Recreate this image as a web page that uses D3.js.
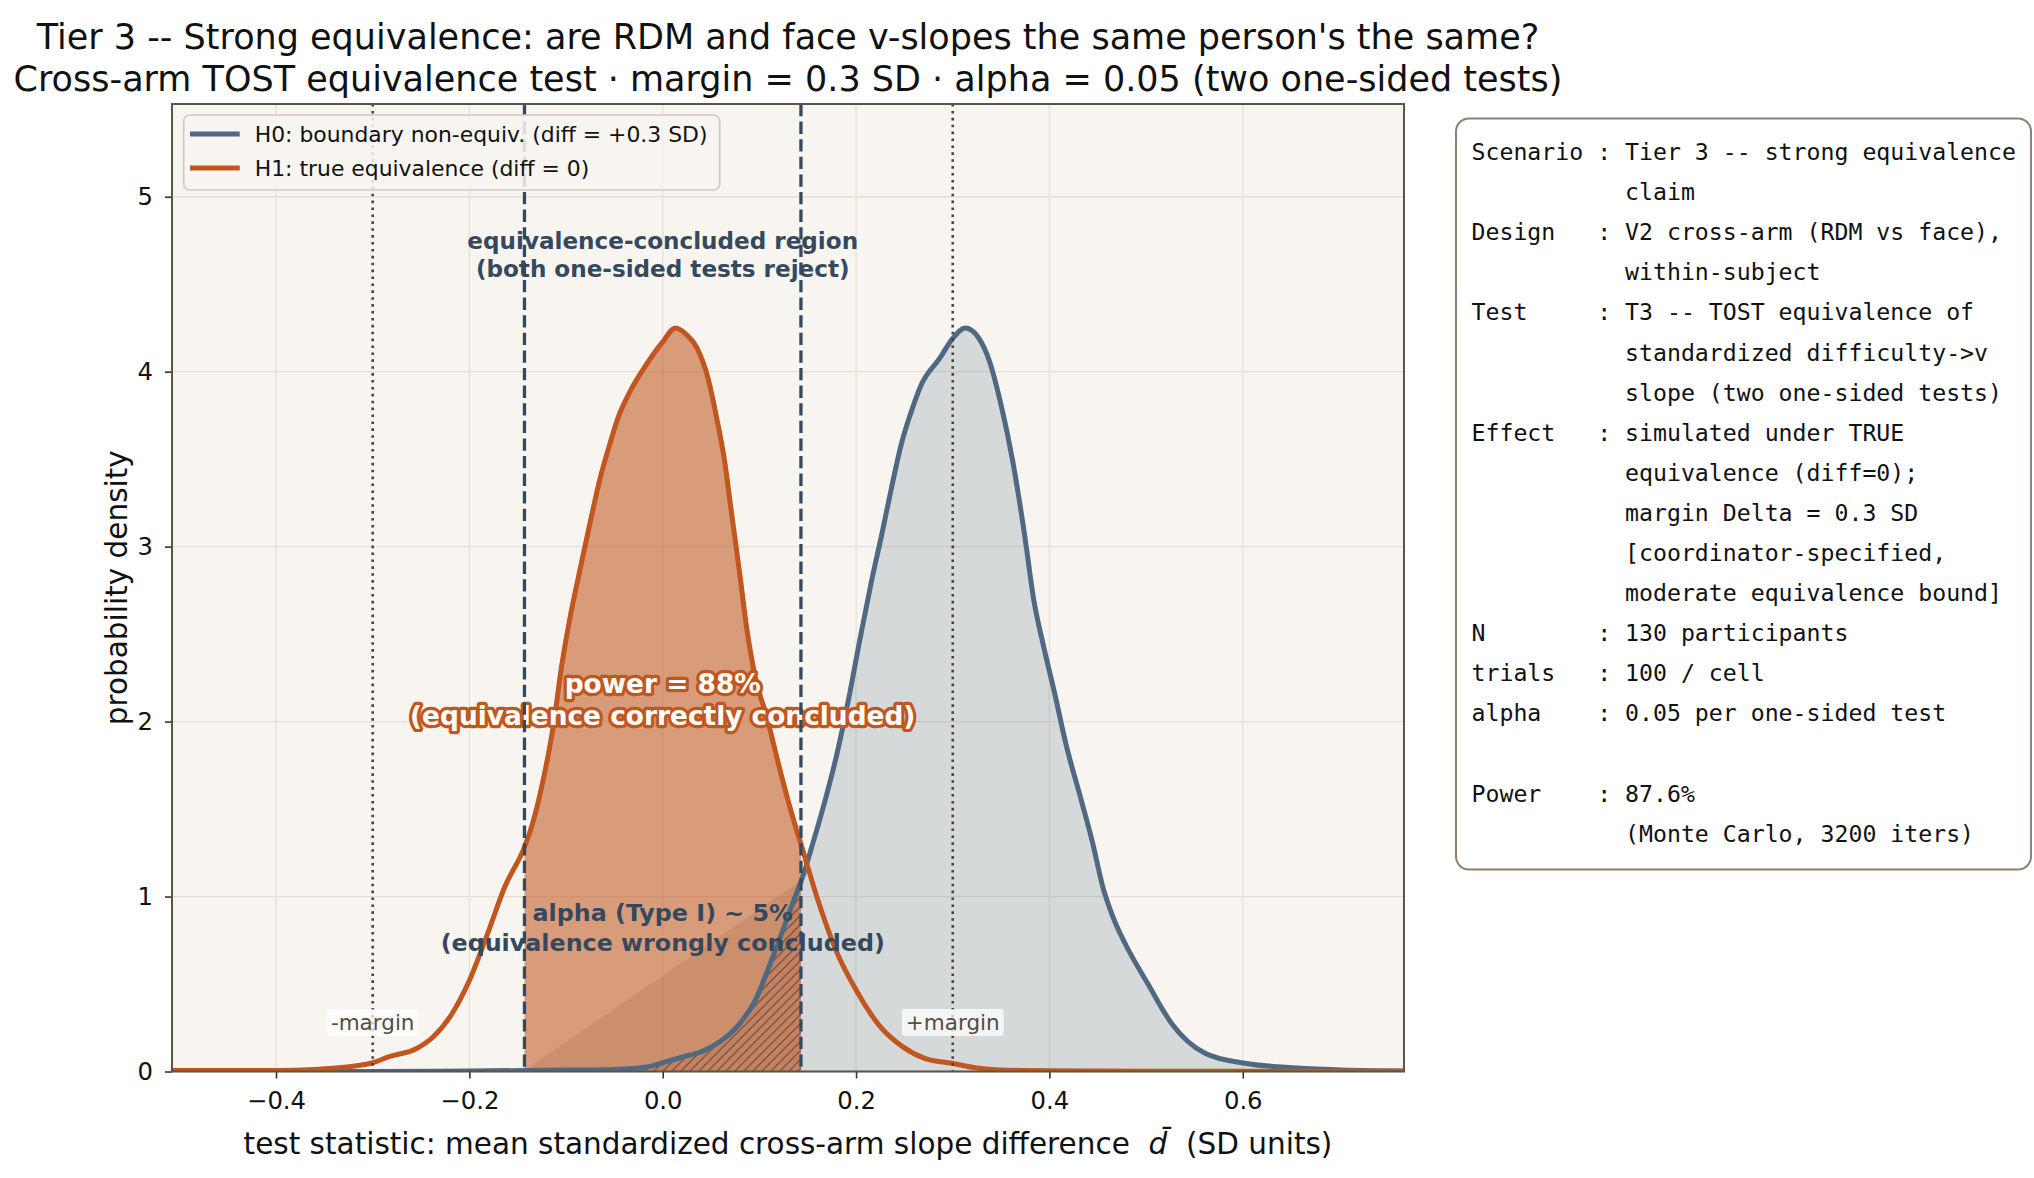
<!DOCTYPE html>
<html>
<head>
<meta charset="utf-8">
<script src="https://d3js.org/d3.v7.min.js"></script>
<style>
  body { margin: 0; background: #ffffff; }
  text { font-family: "DejaVu Sans", sans-serif; }
  text.mono { font-family: "DejaVu Sans Mono", monospace; white-space: pre; }
</style>
</head>
<body>
<svg id="drawing_region"></svg>
<script>
// ---- values ----
// H0: boundary non-equivalence, density of d-bar (x, density)
const h0Points = [
  [-0.52, 0.0], [-0.30, 0.0], [-0.20, 0.003], [-0.10, 0.008], [-0.05, 0.012],
  [-0.015, 0.027], [0.003, 0.055], [0.022, 0.085], [0.040, 0.113], [0.059, 0.17],
  [0.077, 0.256], [0.096, 0.41], [0.114, 0.656], [0.133, 0.94], [0.147, 1.15],
  [0.154, 1.28], [0.168, 1.55], [0.180, 1.81], [0.192, 2.12], [0.204, 2.47],
  [0.2155, 2.79], [0.227, 3.08], [0.237, 3.345], [0.247, 3.59], [0.257, 3.77],
  [0.267, 3.92], [0.287, 4.08], [0.300, 4.19], [0.313, 4.25], [0.326, 4.20],
  [0.338, 4.06], [0.350, 3.81], [0.362, 3.49], [0.374, 3.08], [0.384, 2.69],
  [0.394, 2.43], [0.4055, 2.16], [0.417, 1.874], [0.433, 1.55], [0.445, 1.30],
  [0.455, 1.06], [0.466, 0.88], [0.4775, 0.74], [0.502, 0.50], [0.527, 0.27],
  [0.561, 0.104], [0.602, 0.047], [0.644, 0.024], [0.702, 0.009], [0.78, 0.003]
];
// H1: true equivalence
const h1Points = [
  [-0.52, 0.005], [-0.45, 0.006], [-0.40, 0.006], [-0.36, 0.012], [-0.32, 0.03],
  [-0.30, 0.05], [-0.283, 0.085], [-0.255, 0.13], [-0.237, 0.2], [-0.218, 0.33],
  [-0.20, 0.52], [-0.181, 0.79], [-0.163, 1.06], [-0.144, 1.27], [-0.1355, 1.40],
  [-0.1235, 1.67], [-0.113, 1.98], [-0.1045, 2.32], [-0.096, 2.59], [-0.0855, 2.87],
  [-0.075, 3.14], [-0.065, 3.385], [-0.0545, 3.59], [-0.046, 3.74], [-0.034, 3.885],
  [-0.017, 4.04], [0.000, 4.17], [0.013, 4.25], [0.025, 4.21], [0.035, 4.14],
  [0.047, 3.96], [0.056, 3.73], [0.064, 3.49], [0.071, 3.20], [0.080, 2.83],
  [0.087, 2.53], [0.0955, 2.26], [0.108, 2.02], [0.121, 1.73], [0.135, 1.445],
  [0.143, 1.30], [0.1605, 0.98], [0.179, 0.695], [0.202, 0.447], [0.225, 0.256],
  [0.248, 0.142], [0.271, 0.075], [0.299, 0.047], [0.325, 0.02], [0.349, 0.009],
  [0.40, 0.004], [0.50, 0.002], [0.78, 0.001]
];
const critValue = 0.143;      // TOST critical bound on d-bar
const marginValue = 0.3;      // equivalence margin
const xDomain = [-0.5076, 0.7668];
const yDomain = [0, 5.53];
const xTicks = [-0.4, -0.2, 0.0, 0.2, 0.4, 0.6];
const yTicks = [0, 1, 2, 3, 4, 5];
const legendLabels = ["H0: boundary non-equiv. (diff = +0.3 SD)", "H1: true equivalence (diff = 0)"];
const titleLines = [
  "Tier 3 -- Strong equivalence: are RDM and face v-slopes the same person's the same?",
  "Cross-arm TOST equivalence test \u00b7 margin = 0.3 SD \u00b7 alpha = 0.05 (two one-sided tests)"
];
const regionLabel = ["equivalence-concluded region", "(both one-sided tests reject)"];
const powerLabel = ["power = 88%", "(equivalence correctly concluded)"];
const alphaLabel = ["alpha (Type I) ~ 5%", "(equivalence wrongly concluded)"];
const infoLines = [
  "Scenario : Tier 3 -- strong equivalence",
  "           claim",
  "Design   : V2 cross-arm (RDM vs face),",
  "           within-subject",
  "Test     : T3 -- TOST equivalence of",
  "           standardized difficulty->v",
  "           slope (two one-sided tests)",
  "Effect   : simulated under TRUE",
  "           equivalence (diff=0);",
  "           margin Delta = 0.3 SD",
  "           [coordinator-specified,",
  "           moderate equivalence bound]",
  "N        : 130 participants",
  "trials   : 100 / cell",
  "alpha    : 0.05 per one-sided test",
  "",
  "Power    : 87.6%",
  "           (Monte Carlo, 3200 iters)"
];

// ---- colours ----
const H0_COLOR = "#4e6981";
const H1_COLOR = "#c1561e";
const SLATE = "#34495e";
const FACE = "#f8f5f0";

const config = {
  width: 2034,
  height: 1178,
  margin: { top: 104, right: 630, bottom: 106.5, left: 172 }
};

const svg = d3.select('#drawing_region')
  .attr('width', config.width)
  .attr('height', config.height);

const inner_width = config.width - config.margin.left - config.margin.right;
const inner_height = config.height - config.margin.top - config.margin.bottom;

const xscale = d3.scaleLinear().domain(xDomain).range([0, inner_width]);
const yscale = d3.scaleLinear().domain(yDomain).range([inner_height, 0]);

const defs = svg.append('defs');
defs.append('clipPath').attr('id', 'plotclip')
  .append('rect').attr('width', inner_width).attr('height', inner_height);
defs.append('clipPath').attr('id', 'critclip')
  .append('rect')
  .attr('x', xscale(-critValue)).attr('y', 0)
  .attr('width', xscale(critValue) - xscale(-critValue))
  .attr('height', inner_height);
const hatch = defs.append('pattern').attr('id', 'hatch')
  .attr('patternUnits', 'userSpaceOnUse')
  .attr('width', 9).attr('height', 9);
hatch.append('path')
  .attr('d', 'M-2,2 L2,-2 M0,9 L9,0 M7,11 L11,7')
  .attr('stroke', '#874527').attr('stroke-width', 1.3).attr('opacity', 0.85);

// ---- title ----
svg.append('g').selectAll('text')
  .data(titleLines)
  .join('text')
  .attr('x', config.margin.left + inner_width / 2)
  .attr('y', (d, i) => 48.5 + i * 42)
  .attr('text-anchor', 'middle')
  .attr('font-size', '35px')
  .attr('fill', '#111')
  .text(d => d);

const chart = svg.append('g')
  .attr('transform', `translate(${config.margin.left}, ${config.margin.top})`);

chart.append('rect')
  .attr('width', inner_width).attr('height', inner_height)
  .attr('fill', FACE);

// grid
const grid = chart.append('g').attr('stroke', '#e6dfd2').attr('stroke-width', 1.3);
grid.selectAll('line.vx').data(xTicks).join('line')
  .attr('x1', d => xscale(d)).attr('x2', d => xscale(d))
  .attr('y1', 0).attr('y2', inner_height);
grid.selectAll('line.hy').data(yTicks).join('line')
  .attr('y1', d => yscale(d)).attr('y2', d => yscale(d))
  .attr('x1', 0).attr('x2', inner_width);

const plot = chart.append('g').attr('clip-path', 'url(#plotclip)');

const area = d3.area()
  .x(d => xscale(d[0]))
  .y0(yscale(0))
  .y1(d => yscale(d[1]))
  .curve(d3.curveMonotoneX);
const line = d3.line()
  .x(d => xscale(d[0]))
  .y(d => yscale(d[1]))
  .curve(d3.curveMonotoneX);

// H0 shading over whole range
plot.append('path').datum(h0Points)
  .attr('d', area)
  .attr('fill', H0_COLOR).attr('fill-opacity', 0.2);

// H1 shading inside the equivalence region (power)
const crit = plot.append('g').attr('clip-path', 'url(#critclip)');
crit.append('path').datum(h1Points)
  .attr('d', area)
  .attr('fill', H1_COLOR).attr('fill-opacity', 0.56);

// H0 mass inside the region (alpha): polygon closed along chord + hatch
function densityAt(pts, x) {
  const i = d3.bisector(d => d[0]).left(pts, x);
  const a = pts[Math.max(0, i - 1)], b = pts[Math.min(pts.length - 1, i)];
  if (b[0] === a[0]) return a[1];
  return a[1] + (b[1] - a[1]) * (x - a[0]) / (b[0] - a[0]);
}
const chord = [
  [-critValue, 0],
  [-critValue, densityAt(h0Points, -critValue)],
  [critValue, densityAt(h0Points, critValue)],
  [critValue, 0]
];
plot.append('path').datum(chord)
  .attr('d', d3.line().x(d => xscale(d[0])).y(d => yscale(d[1])))
  .attr('fill', '#6e3018').attr('fill-opacity', 0.12);
crit.append('path').datum(h0Points)
  .attr('d', area)
  .attr('fill', 'url(#hatch)');

// annotation texts (under the lines)
function multiText(g, lines, x, y0, step, size, fill) {
  return g.append('g').selectAll('text')
    .data(lines)
    .join('text')
    .attr('x', xscale(x))
    .attr('y', (d, i) => y0 + i * step)
    .attr('text-anchor', 'middle')
    .attr('font-size', size)
    .attr('font-weight', 'bold')
    .attr('fill', fill)
    .text(d => d);
}
multiText(chart, regionLabel, 0, 249 - config.margin.top, 28, '23.1px', SLATE);
multiText(chart, alphaLabel, 0, 921 - config.margin.top, 30, '23.8px', SLATE);
multiText(chart, powerLabel, 0, 693 - config.margin.top, 31.5, '26.4px', '#ffffff')
  .attr('stroke', H1_COLOR).attr('stroke-width', 6.5)
  .attr('stroke-linejoin', 'round').attr('paint-order', 'stroke');

// density curves
plot.append('path').datum(h0Points)
  .attr('d', line).attr('fill', 'none')
  .attr('stroke', H0_COLOR).attr('stroke-width', 5);
plot.append('path').datum(h1Points)
  .attr('d', line).attr('fill', 'none')
  .attr('stroke', H1_COLOR).attr('stroke-width', 5);

// critical bounds and margins
chart.selectAll('line.crit').data([-critValue, critValue]).join('line')
  .attr('x1', d => xscale(d)).attr('x2', d => xscale(d))
  .attr('y1', 0).attr('y2', inner_height)
  .attr('stroke', SLATE).attr('stroke-width', 3.3)
  .attr('stroke-dasharray', '12.3,5.3');
chart.selectAll('line.marg').data([-marginValue, marginValue]).join('line')
  .attr('x1', d => xscale(d)).attr('x2', d => xscale(d))
  .attr('y1', 0).attr('y2', inner_height)
  .attr('stroke', '#4a433c').attr('stroke-width', 2.6)
  .attr('stroke-dasharray', '2.6,4.3');

const marginLabels = chart.append('g');
[[-marginValue, '-margin'], [marginValue, '+margin']].forEach(([v, lab]) => {
  const t = marginLabels.append('text')
    .attr('x', xscale(v)).attr('y', yscale(0.28))
    .attr('text-anchor', 'middle').attr('dy', '0.35em')
    .attr('font-size', '21.5px').attr('fill', '#554c44')
    .text(lab);
  const bb = t.node().getBBox();
  marginLabels.insert('rect', 'text')
    .attr('x', bb.x - 4).attr('y', bb.y - 1)
    .attr('width', bb.width + 8).attr('height', bb.height + 2)
    .attr('rx', 3)
    .attr('fill', '#ffffff').attr('fill-opacity', 0.72);
});

// axes
const xaxis = d3.axisBottom(xscale).tickValues(xTicks)
  .tickFormat(d3.format('.1f')).tickSize(7).tickPadding(13);
const yaxis = d3.axisLeft(yscale).tickValues(yTicks)
  .tickFormat(d3.format('d')).tickSize(7).tickPadding(12);
const xg = chart.append('g').attr('transform', `translate(0, ${inner_height})`).call(xaxis);
const yg = chart.append('g').call(yaxis);
[xg, yg].forEach(g => {
  g.select('.domain').remove();
  g.selectAll('line').attr('stroke', '#333').attr('stroke-width', 1.6);
  g.selectAll('text').attr('font-size', '24.3px').attr('fill', '#111')
    .attr('font-family', null);
});

// spines
chart.append('rect')
  .attr('width', inner_width).attr('height', inner_height)
  .attr('fill', 'none').attr('stroke', '#5c5545').attr('stroke-width', 2);

// axis labels
const xlab = svg.append('text')
  .attr('x', config.margin.left + inner_width / 2)
  .attr('y', 1154)
  .attr('text-anchor', 'middle')
  .attr('font-size', '29.5px').attr('fill', '#111')
  .style('white-space', 'pre');
xlab.append('tspan').text('test statistic: mean standardized cross-arm slope difference  ');
xlab.append('tspan').attr('font-style', 'italic').text('d\u0304');
xlab.append('tspan').text('  (SD units)');

svg.append('text')
  .attr('transform', `translate(127, ${config.margin.top + inner_height / 2}) rotate(-90)`)
  .attr('text-anchor', 'middle')
  .attr('font-size', '29.5px').attr('fill', '#111')
  .text('probability density');

// legend
const legend = chart.append('g').attr('transform', 'translate(11.7, 11)');
legend.append('rect')
  .attr('width', 536).attr('height', 75).attr('rx', 6)
  .attr('fill', FACE).attr('fill-opacity', 0.85)
  .attr('stroke', '#cfcac2').attr('stroke-width', 1.6);
const legendColors = [H0_COLOR, H1_COLOR];
const items = legend.selectAll('g.item').data(legendLabels).join('g')
  .attr('transform', (d, i) => `translate(0, ${19 + i * 34})`);
items.append('line')
  .attr('x1', 6.3).attr('x2', 56)
  .attr('stroke', (d, i) => legendColors[i]).attr('stroke-width', 5);
items.append('text')
  .attr('x', 71).attr('dy', '0.36em')
  .attr('font-size', '21.9px').attr('fill', '#111')
  .text(d => d);

// info panel
const info = svg.append('g').attr('transform', 'translate(1456, 118.5)');
info.append('rect')
  .attr('width', 575).attr('height', 751).attr('rx', 13)
  .attr('fill', '#ffffff').attr('stroke', '#8c8270').attr('stroke-width', 2);
info.selectAll('text').data(infoLines).join('text')
  .attr('class', 'mono')
  .attr('x', 15.5)
  .attr('y', (d, i) => 41.5 + i * 40.1)
  .attr('font-size', '23.2px').attr('fill', '#111')
  .text(d => d);
</script>
</body>
</html>
